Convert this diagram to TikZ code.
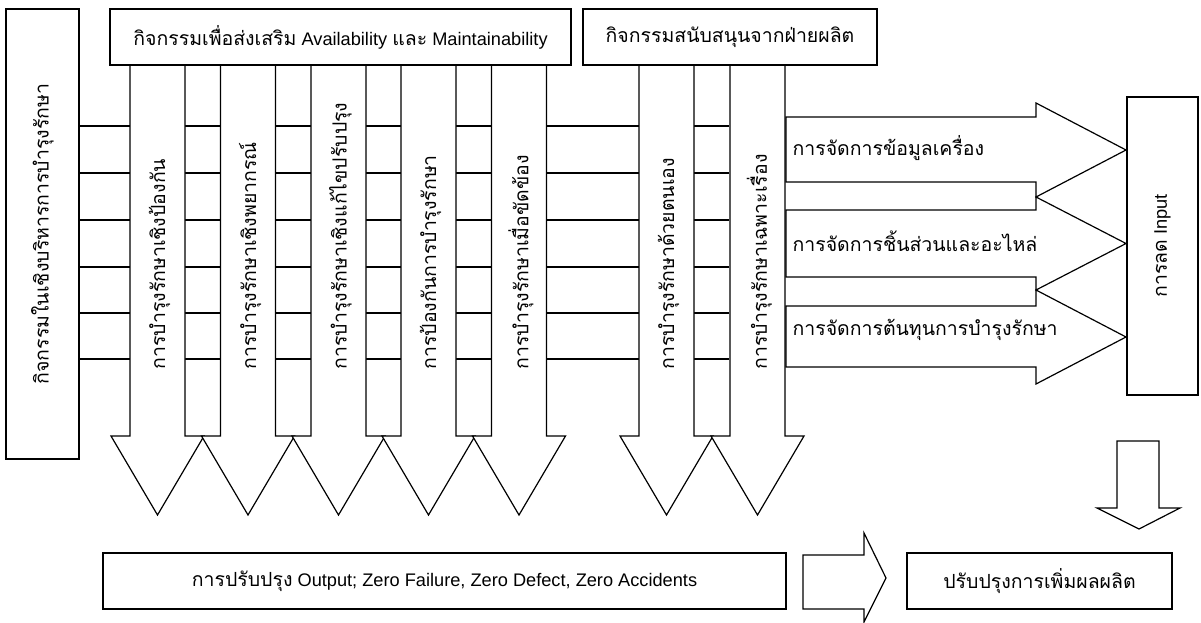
\documentclass[tikz,border=0pt]{standalone}
\usepackage{fontspec}
\setmainfont{Liberation Sans}
\newfontfamily\thaifont[Script=Thai,Scale=1.07]{Loma}
\newcommand{\tx}[1]{{\thaifont #1}}
\newcommand{\fs}{\fontsize{18.2}{21}\selectfont}
\begin{document}
\begin{tikzpicture}[x=1pt,y=-1pt,line width=1.2pt,line join=miter,
  box/.style={draw,fill=white,inner sep=0pt},
  blk/.style={draw,fill=white},
  lbl/.style={font=\fs,inner sep=0pt}]
\useasboundingbox (0,0) rectangle (1201,623);
% grid lines
\foreach \y in {126,173,220,267,313,359} \draw (79,\y) -- (729,\y);
% vertical block arrows
\foreach \c/\t in {157.5/การบำรุงรักษาเชิงป้องกัน,248/การบำรุงรักษาเชิงพยากรณ์,338.5/การบำรุงรักษาเชิงแก้ไขปรับปรุง,428.5/การป้องกันการบำรุงรักษา,519/การบำรุงรักษาเมื่อขัดข้อง,666.5/การบำรุงรักษาด้วยตนเอง,757.5/การบำรุงรักษาเฉพาะเรื่อง}{
  \draw[blk] (\c-27.5,65) -- (\c-27.5,436) -- (\c-46.5,436) -- (\c,515) -- (\c+46.5,436) -- (\c+27.5,436) -- (\c+27.5,65) -- cycle;
  \node[lbl,rotate=90,anchor=west] at (\c+2,370) {\tx{\t}};
}
% right block arrows
\draw[blk] (786,117) -- (1036,117) -- (1036,103) -- (1126,150) -- (1036,197) -- (1036,182) -- (786,182) -- cycle;
\draw[blk] (786,210) -- (1036,210) -- (1036,197) -- (1126,243.5) -- (1036,290) -- (1036,277) -- (786,277) -- cycle;
\draw[blk] (786,306) -- (1036,306) -- (1036,290) -- (1126,337) -- (1036,384) -- (1036,367) -- (786,367) -- cycle;
\node[lbl,anchor=west] (r1) at (792,148) {\tx{การจัดการข้อมูลเครื่อง}};
\node[lbl,anchor=west] (r2) at (792,241) {\tx{การจัดการชิ้นส่วนและอะไหล่}};
\node[lbl,anchor=west] (r3) at (792,330) {\tx{การจัดการต้นทุนการบำรุงรักษา}};
% boxes
\node[box,minimum width=73,minimum height=450] (mgmt) at (42.5,234) {};
\node[lbl,rotate=90] at (mgmt.center) {\tx{กิจกรรมในเชิงบริหารการบำรุงรักษา}};
\node[box,minimum width=461,minimum height=56,font=\fs] (avail) at (340.5,37) {\tx{กิจกรรมเพื่อส่งเสริม} Availability \tx{และ} Maintainability};
\node[box,minimum width=294,minimum height=56,font=\fs] (prod) at (730,37) {\tx{กิจกรรมสนับสนุนจากฝ่ายผลิต}};
\node[box,minimum width=71,minimum height=298] (input) at (1162.5,246) {};
\node[lbl,rotate=90] at (input.center) {\tx{การลด} Input};
\node[box,minimum width=683,minimum height=56,font=\fs] (output) at (444.5,581) {\tx{การปรับปรุง} Output; Zero Failure, Zero Defect, Zero Accidents};
\node[box,minimum width=265,minimum height=56,font=\fs] (improve) at (1039.5,581) {\tx{ปรับปรุงการเพิ่มผลผลิต}};
% bottom arrows
\draw[blk] (803,555) -- (864,555) -- (864,533) -- (886,578) -- (864,622) -- (864,609) -- (803,609) -- cycle;
\draw[blk] (1117,441) -- (1159,441) -- (1159,508) -- (1180,508) -- (1139,529) -- (1097,508) -- (1117,508) -- cycle;
\end{tikzpicture}
\end{document}
